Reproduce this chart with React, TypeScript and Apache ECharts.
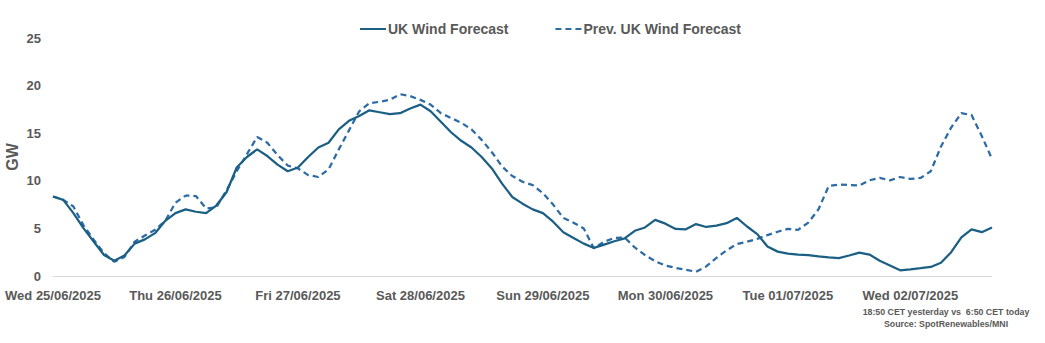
import React, { useEffect, useRef } from "react";
import * as echarts from "echarts";

const hours = [
  0, 2, 4, 6, 8, 10, 12, 14, 16, 18, 20, 22, 24, 26, 28, 30, 32, 34, 36, 38, 40, 42, 44, 46,
  48, 50, 52, 54, 56, 58, 60, 62, 64, 66, 68, 70, 72, 74, 76, 78, 80, 82, 84, 86, 88, 90, 92, 94,
  96, 98, 100, 102, 104, 106, 108, 110, 112, 114, 116, 118, 120, 122, 124, 126, 128, 130, 132, 134, 136, 138, 140, 142,
  144, 146, 148, 150, 152, 154, 156, 158, 160, 162, 164, 166, 168, 170, 172, 174, 176, 178, 180, 182, 184,
];

const ukWind = [
  8.35, 8.0, 6.6, 5.0, 3.6, 2.2, 1.6, 2.15, 3.4, 3.85, 4.5, 5.8,
  6.6, 7.0, 6.75, 6.6, 7.4, 8.8, 11.4, 12.5, 13.3, 12.6, 11.7, 11.0,
  11.4, 12.5, 13.5, 14.0, 15.4, 16.3, 16.8, 17.4, 17.2, 17.0, 17.1, 17.6,
  18.0, 17.3, 16.2, 15.1, 14.2, 13.5, 12.5, 11.3, 9.7, 8.3, 7.6, 7.0,
  6.6, 5.7, 4.6, 4.0, 3.4, 2.95, 3.3, 3.65, 3.95, 4.75, 5.1, 5.9,
  5.5, 4.95, 4.9, 5.45, 5.15, 5.3, 5.55, 6.1, 5.2, 4.4, 3.1, 2.56,
  2.35, 2.25, 2.2, 2.05, 1.95, 1.88, 2.15, 2.45, 2.25, 1.6, 1.1, 0.6,
  0.7, 0.82, 0.95, 1.4, 2.5, 4.05, 4.9, 4.6, 5.1,
];

const prevUkWind = [
  8.35, 8.0, 7.3, 5.3, 3.8, 2.4, 1.5, 2.0, 3.6, 4.25, 4.85, 5.8,
  7.7, 8.45, 8.4, 7.1, 7.2, 9.0, 11.0, 12.8, 14.6, 14.0, 12.7, 11.6,
  11.3, 10.6, 10.4, 11.2, 13.3, 15.3, 17.3, 18.15, 18.3, 18.5, 19.1, 18.9,
  18.5, 18.0, 17.1, 16.6, 16.1, 15.4, 14.3, 13.0, 11.5, 10.5, 9.9, 9.55,
  8.7, 7.5, 6.1, 5.6, 5.0, 2.9, 3.6, 4.0, 4.05, 3.0, 2.2, 1.55,
  1.1, 0.85, 0.65, 0.45, 1.0, 1.9, 2.7, 3.35, 3.6, 3.9, 4.3, 4.65,
  4.95, 4.85, 5.6, 7.0, 9.45, 9.6, 9.55, 9.5, 10.05, 10.3, 10.05, 10.4,
  10.2, 10.3, 11.0, 13.6, 15.6, 17.1, 16.9, 14.7, 12.3,
];

const dayLabels = [
  "Wed 25/06/2025",
  "Thu 26/06/2025",
  "Fri 27/06/2025",
  "Sat 28/06/2025",
  "Sun 29/06/2025",
  "Mon 30/06/2025",
  "Tue 01/07/2025",
  "Wed 02/07/2025",
];

const yTicks = [0, 5, 10, 15, 20, 25];

const seriesNames = ["UK Wind Forecast", "Prev. UK Wind Forecast"];
const footnote = ["18:50 CET yesterday vs  6:50 CET today", "Source: SpotRenewables/MNI"];

const FONT = "'Liberation Sans Narrow', 'Liberation Sans', Arial, sans-serif";
const GREY = "#595959";
const SOLID = "#1b5f84";
const DASHED = "#2d6ba5";

export default function App() {
  const ref = useRef<HTMLDivElement>(null);

  useEffect(() => {
    document.body.style.margin = "0";
    if (!ref.current) return;
    const chart = echarts.init(ref.current, undefined, { renderer: "svg" });
    chart.setOption({
      animation: false,
      backgroundColor: "#ffffff",
      textStyle: { fontFamily: FONT },
      grid: { left: 53, right: 53, top: 38, bottom: 67, containLabel: false, outerBoundsMode: "none" },
      legend: {
        left: 354,
        top: 17,
        itemWidth: 26,
        itemHeight: 10,
        itemGap: 46,
        itemStyle: { opacity: 0 },
        textStyle: { color: GREY, fontFamily: FONT, fontWeight: "bold", fontSize: 14, padding: [0, 0, 0, -3] },
        data: seriesNames,
      },
      xAxis: {
        type: "value",
        min: 0,
        max: 184,
        interval: 24,
        splitLine: { show: false },
        axisTick: { show: false },
        axisLine: { show: true, lineStyle: { color: "#d9d9d9", width: 1 } },
        axisLabel: {
          color: GREY,
          fontFamily: FONT,
          fontWeight: "bold",
          fontSize: 13,
          margin: 13,
          showMaxLabel: false,
          formatter: (v: number) => dayLabels[Math.round(v / 24)] ?? "",
        },
      },
      yAxis: {
        type: "value",
        min: yTicks[0],
        max: yTicks[yTicks.length - 1],
        interval: 5,
        splitLine: { show: false },
        axisLine: { show: false },
        axisTick: { show: false },
        name: "GW",
        nameLocation: "middle",
        nameGap: 33,
        nameMoveOverlap: false,
        nameRotate: 90,
        nameTextStyle: { color: GREY, fontFamily: FONT, fontWeight: "bold", fontSize: 16 },
        axisLabel: { color: GREY, fontFamily: FONT, fontWeight: "bold", fontSize: 13, margin: 12 },
      },
      series: [
        {
          name: seriesNames[0],
          type: "line",
          showSymbol: false,
          symbol: "none",
          data: hours.map((h, i) => [h, ukWind[i]]),
          lineStyle: { color: SOLID, width: 2.25, type: "solid" },
          itemStyle: { color: SOLID },
          z: 3,
        },
        {
          name: seriesNames[1],
          type: "line",
          showSymbol: false,
          symbol: "none",
          data: hours.map((h, i) => [h, prevUkWind[i]]),
          lineStyle: { color: DASHED, width: 2.25, type: [6, 4] },
          itemStyle: { color: DASHED },
          z: 2,
        },
      ],
      graphic: [
        {
          type: "text",
          x: 946,
          y: 312,
          style: {
            text: footnote[0],
            fill: GREY,
            font: `bold 8.8px ${FONT}`,
            textAlign: "center",
            textVerticalAlign: "middle",
          },
        },
        {
          type: "text",
          x: 946,
          y: 324,
          style: {
            text: footnote[1],
            fill: GREY,
            font: `bold 8.8px ${FONT}`,
            textAlign: "center",
            textVerticalAlign: "middle",
          },
        },
      ],
    });
    return () => chart.dispose();
  }, []);

  return <div ref={ref} style={{ width: 1045, height: 343 }} />;
}
